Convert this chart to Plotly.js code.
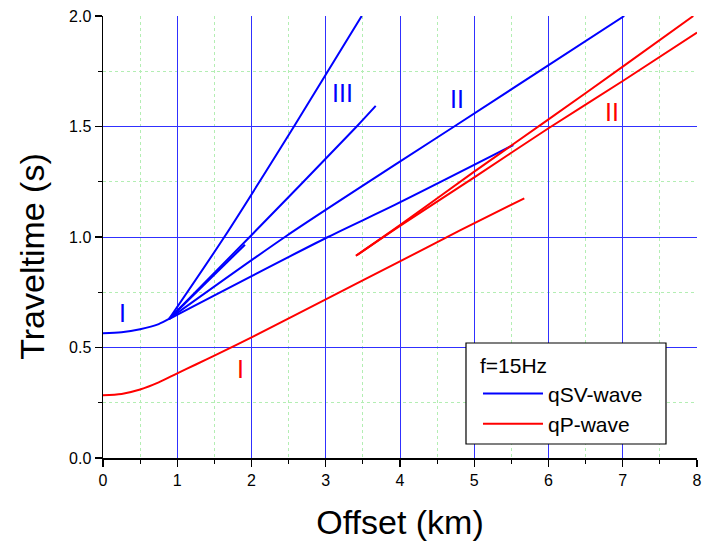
<!DOCTYPE html>
<html>
<head>
<meta charset="utf-8">
<script src="https://cdn.plot.ly/plotly-3.0.1.min.js"></script>
<style>html,body{margin:0;padding:0;background:#fff;}#chart{width:706px;height:543px;}</style>
</head>
<body>
<div id="chart"></div>
<script>
// ---- Data (offset in km, traveltime in s) ----
// qSV-wave branches
const svDirectX = [0, 0.25, 0.5, 0.75, 0.889];
const svDirectT = [0.564, 0.569, 0.583, 0.606, 0.629];
const svSteepX = [0.889, 1.634, 2.572, 3.484];
const svSteepT = [0.629, 1.0, 1.5, 2.0];
const svMidX = [0.889, 1.975, 3.417, 3.673];
const svMidT = [0.629, 1.0, 1.5, 1.593];
const svShortX = [0.889, 1.912];
const svShortT = [0.629, 0.965];
const svUpperX = [0.889, 2.45, 3.93, 4.73, 7.02];
const svUpperT = [0.629, 1.0, 1.326, 1.5, 2.0];
const svLowerX = [0.889, 3.03, 3.93, 5.526];
const svLowerT = [0.629, 1.0, 1.145, 1.416];
// qP-wave branches
const pDirectX = [0, 0.25, 0.5, 0.75, 1.0, 1.25, 1.5, 2.0, 3.0, 3.933, 4.808, 5.674];
const pDirectT = [0.284, 0.290, 0.310, 0.342, 0.383, 0.423, 0.463, 0.546, 0.718, 0.878, 1.030, 1.175];
const pUpperX = [3.407, 4.0, 5.0, 6.0, 7.0, 7.95];
const pUpperT = [0.915, 1.054, 1.296, 1.532, 1.771, 2.0];
const pLowerX = [3.407, 4.0, 5.0, 6.0, 7.0, 8.0];
const pLowerT = [0.915, 1.050, 1.270, 1.492, 1.706, 1.925];
// Branch labels
const labelText = ['I', 'III', 'II', 'I', 'II'];
const labelX = [0.26, 3.23, 4.77, 1.85, 6.86];
const labelT = [0.655, 1.65, 1.625, 0.405, 1.565];
const labelColor = ['#0000ff', '#0000ff', '#0000ff', '#ff0000', '#ff0000'];
const legendTitle = 'f=15Hz';
const seriesNames = ['qSV-wave', 'qP-wave'];
const xTitle = 'Offset (km)';
const yTitle = 'Traveltime (s)';

const BLUE = '#0000ff', RED = '#ff0000';
function tr(x, y, color, name, show) {
  return {x: x, y: y, type: 'scatter', mode: 'lines',
    line: {color: color, width: 2, shape: 'spline', smoothing: 0.8}, name: name,
    showlegend: show, hoverinfo: 'skip'};
}
const data = [
  tr(svDirectX, svDirectT, BLUE, seriesNames[0], true),
  tr(svSteepX, svSteepT, BLUE, seriesNames[0], false),
  tr(svMidX, svMidT, BLUE, seriesNames[0], false),
  tr(svShortX, svShortT, BLUE, seriesNames[0], false),
  tr(svUpperX, svUpperT, BLUE, seriesNames[0], false),
  tr(svLowerX, svLowerT, BLUE, seriesNames[0], false),
  tr(pDirectX, pDirectT, RED, seriesNames[1], true),
  tr(pUpperX, pUpperT, RED, seriesNames[1], false),
  tr(pLowerX, pLowerT, RED, seriesNames[1], false)
];

const FONT = 'Liberation Sans, Arial, sans-serif';
const annotations = labelText.map((t, i) => ({
  x: labelX[i], y: labelT[i], xref: 'x', yref: 'y', text: t, showarrow: false,
  font: {family: FONT, size: 25, color: labelColor[i]}
}));
// y-axis title (placed slightly below the plot centre, as in the reference)
annotations.push({
  x: -0.119, y: 0.456, xref: 'paper', yref: 'paper', xanchor: 'center', yanchor: 'middle',
  text: yTitle, textangle: -90, showarrow: false,
  font: {family: FONT, size: 34, color: '#000'}
});

const axisCommon = {
  showline: true, linecolor: '#000', linewidth: 1.5, mirror: false,
  ticks: 'outside', ticklen: 7, tickwidth: 1.2, tickcolor: '#000',
  showgrid: true, gridcolor: '#3030ff', gridwidth: 1, zeroline: false,
  tickfont: {family: FONT, size: 16, color: '#000'}
};
const minorCommon = {ticks: 'outside', ticklen: 4, tickcolor: '#000', showgrid: true,
  gridcolor: '#b3eeb3', griddash: 'dot', gridwidth: 1};

const layout = {
  width: 706, height: 543,
  margin: {l: 103, r: 9, t: 16, b: 85},
  paper_bgcolor: '#fff', plot_bgcolor: '#fff',
  font: {family: FONT, color: '#000'},
  xaxis: Object.assign({}, axisCommon, {
    range: [0, 8], dtick: 1, tick0: 0,
    minor: Object.assign({dtick: 0.5}, minorCommon),
    title: {text: xTitle, font: {family: FONT, size: 34, color: '#000'}, standoff: 22}
  }),
  yaxis: Object.assign({}, axisCommon, {
    range: [0, 2], dtick: 0.5, tick0: 0, tickformat: '.1f',
    minor: Object.assign({dtick: 0.25}, minorCommon)
  }),
  showlegend: true,
  legend: {
    x: 0.6313, y: 0.2534, xanchor: 'left', yanchor: 'top',
    bgcolor: 'rgba(0,0,0,0)', borderwidth: 0,
    font: {family: FONT, size: 21, color: '#000'},
    title: {text: legendTitle, font: {family: FONT, size: 21, color: '#000'}},
    itemwidth: 60, traceorder: 'normal', tracegroupgap: 0
  },
  // legend frame (white box with black border)
  shapes: [{
    type: 'rect', xref: 'paper', yref: 'paper', layer: 'above',
    x0: 0.6111, x1: 0.9478, y0: 0.0317, y1: 0.2602,
    fillcolor: '#fff', line: {color: '#000', width: 1.2}
  }],
  annotations: annotations
};

Plotly.newPlot('chart', data, layout, {staticPlot: true, displayModeBar: false});
</script>
</body>
</html>
